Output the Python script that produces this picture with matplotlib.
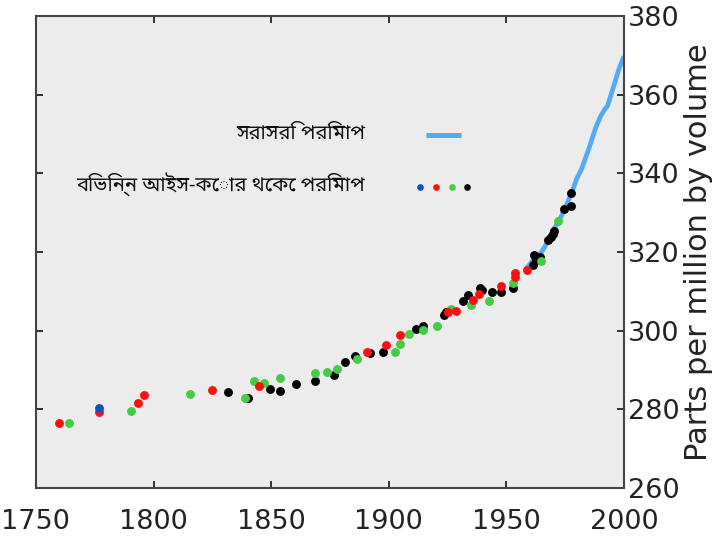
import matplotlib
matplotlib.use("Agg")
import matplotlib.pyplot as plt

# Mauna Loa direct measurements (blue line)
direct_years = [1958, 1960, 1962, 1965, 1968, 1970, 1972, 1975, 1978, 1980, 1982, 1985, 1988, 1990, 1992, 1993, 1995, 1998, 2000]
direct_ppm = [315.4, 316.9, 318.4, 320.0, 323.0, 325.7, 327.4, 331.1, 335.4, 338.7, 341.1, 346.1, 351.6, 354.4, 356.4, 357.1, 360.9, 366.7, 369.7]

# Ice core measurements (four cores)
blue_years = [1776.8]
blue_ppm = [280.3]

red_years = [1759.8, 1776.8, 1793.6, 1795.8, 1824.7, 1844.7, 1890.9, 1898.8, 1904.8,
             1925.4, 1928.7, 1935.7, 1938.5, 1947.7, 1953.7, 1953.7, 1958.6]
red_ppm = [276.6, 279.2, 281.5, 283.6, 284.9, 285.9, 294.6, 296.4, 298.9,
           304.8, 305.1, 307.8, 309.2, 311.4, 313.6, 314.6, 315.4]

green_years = [1763.9, 1790.5, 1815.6, 1838.9, 1842.7, 1846.8, 1853.7, 1868.6, 1873.6,
               1877.8, 1886.3, 1902.6, 1904.8, 1908.7, 1914.7, 1920.6, 1926.4, 1934.8,
               1942.6, 1952.7, 1964.7, 1972.1]
green_ppm = [276.6, 279.6, 283.8, 282.8, 287.3, 286.8, 288.0, 289.3, 289.5,
             290.3, 292.8, 294.5, 296.6, 299.1, 300.2, 301.3, 305.5, 306.4,
             307.6, 312.2, 317.8, 327.9]

black_years = [1831.8, 1840.0, 1849.6, 1853.7, 1860.7, 1868.6, 1876.7, 1881.5, 1885.6,
               1892.0, 1897.7, 1911.8, 1914.7, 1923.6, 1924.3, 1931.7, 1933.7, 1938.8,
               1939.5, 1943.7, 1947.7, 1952.7, 1961.4, 1961.8, 1962.6, 1964.3, 1967.8,
               1969.2, 1969.9, 1970.4, 1974.6, 1977.7, 1977.4]
black_ppm = [284.3, 282.8, 285.1, 284.7, 286.4, 287.2, 288.6, 291.9, 293.6,
             294.4, 294.5, 300.4, 301.3, 304.0, 304.8, 307.6, 309.0, 310.8,
             310.3, 309.7, 309.7, 310.9, 316.7, 319.2, 318.0, 318.8, 323.1,
             323.9, 324.6, 325.2, 330.9, 331.8, 334.9]

x_ticks = [1750, 1800, 1850, 1900, 1950, 2000]
y_ticks = [260, 280, 300, 320, 340, 360, 380]

label_direct = "সরাসরি পরিমাপ"
label_ice = "বিভিন্ন আইস-কোর থেকে পরিমাপ"
y_label = "Parts per million by volume"

C_LINE = "#55aaf5"
C_BLUE = "#1050c0"
C_RED = "#ff1010"
C_GREEN = "#44cc44"
C_BLACK = "#000000"

fig = plt.figure(figsize=(7.18, 5.48), dpi=100)
ax = fig.add_axes([0.050, 0.1095, 0.819, 0.8615])
ax.set_facecolor("#ececec")

ax.plot(direct_years, direct_ppm, color=C_LINE, lw=3.4, solid_capstyle="butt", zorder=2)
ms = 6.4
ax.plot(black_years, black_ppm, "o", color=C_BLACK, ms=ms, mew=0, zorder=3)
ax.plot(green_years, green_ppm, "o", color=C_GREEN, ms=ms, mew=0, zorder=4)
ax.plot(red_years, red_ppm, "o", color=C_RED, ms=ms, mew=0, zorder=5)
ax.plot(blue_years, blue_ppm, "o", color=C_BLUE, ms=ms, mew=0, zorder=6)

ax.set_xlim(1750, 2000)
ax.set_ylim(260, 380)
ax.set_xticks(x_ticks)
ax.set_yticks(y_ticks)
ax.yaxis.tick_right()
ax.yaxis.set_label_position("right")
ax.tick_params(axis="both", which="both", direction="in", length=5, width=1.3,
               top=True, bottom=True, left=True, right=True,
               labelsize=19.5, colors="#222222")
ax.tick_params(axis="x", pad=15)
ax.tick_params(axis="y", pad=3)
for lab in ax.get_xticklabels() + ax.get_yticklabels():
    lab.set_family("DejaVu Sans")
ax.set_ylabel(y_label, fontsize=22, family="DejaVu Sans", color="#222222", labelpad=3)
for s in ax.spines.values():
    s.set_color("#444444")
    s.set_linewidth(1.5)

bfam = ["Noto Sans Bengali", "Lohit Bengali", "Noto Sans", "DejaVu Sans"]
ax.text(0.5595, 0.750, label_direct, transform=ax.transAxes, ha="right", va="center",
        fontsize=14.5, family=bfam, color="#111111")
ax.plot([0.663, 0.723], [0.748, 0.748], transform=ax.transAxes, color=C_LINE, lw=3.6,
        solid_capstyle="butt", clip_on=False)
ax.text(0.5595, 0.642, label_ice, transform=ax.transAxes, ha="right", va="center",
        fontsize=14.5, family=bfam, color="#111111")
for xf, c in zip([0.653, 0.680, 0.707, 0.733], [C_BLUE, C_RED, C_GREEN, C_BLACK]):
    ax.plot([xf], [0.638], "o", transform=ax.transAxes, color=c, ms=4.8, mew=0)

fig.savefig("out.png", dpi=100, facecolor="white")
